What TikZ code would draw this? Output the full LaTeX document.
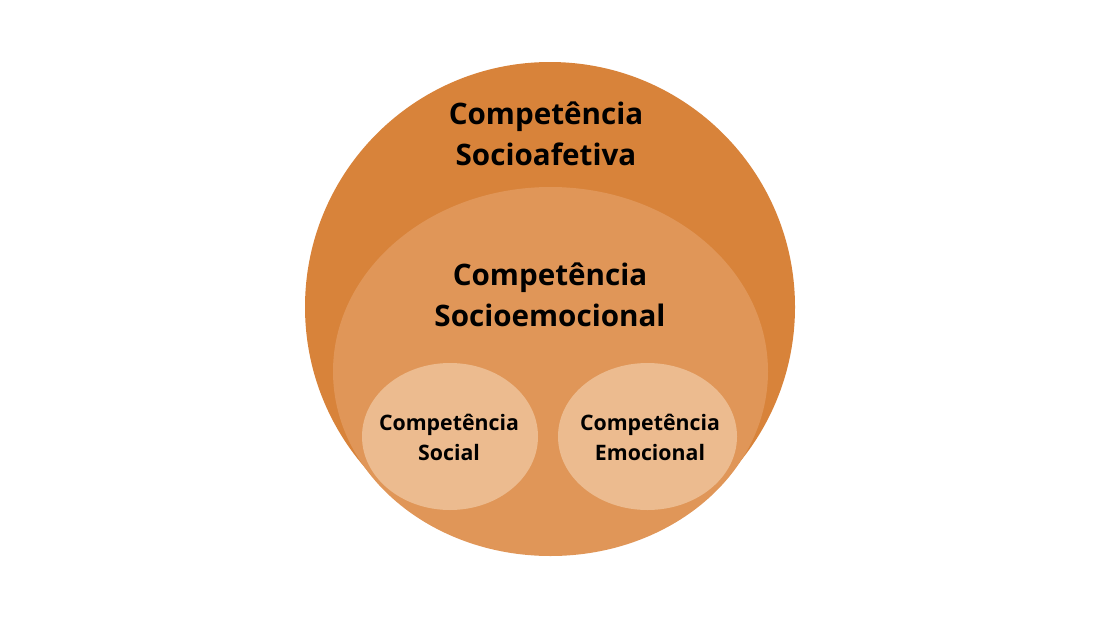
\documentclass[tikz,border=0pt]{standalone}
\usepackage{fontspec}
\setmainfont{Open Sans}[BoldFont={* Bold}]
\usetikzlibrary{shapes.geometric}
\definecolor{outerc}{HTML}{D8833A}
\definecolor{midc}{HTML}{E09658}
\definecolor{smallc}{HTML}{ECBB8F}
\tikzset{
  blob/.style={ellipse, draw=none, inner sep=0pt},
  bigtxt/.style={align=center, font=\fontsize{29.6}{41}\selectfont\bfseries, text=black},
  smalltxt/.style={align=center, font=\fontsize{21.3}{30}\selectfont\bfseries, text=black},
}
\begin{document}
\begin{tikzpicture}[x=1pt,y=-1pt]
\useasboundingbox (0,0) rectangle (1100,619);
\node[blob, fill=outerc, minimum width=490pt, minimum height=490pt] (outer) at (550,307) {};
\node[blob, fill=midc, minimum width=435pt, minimum height=369pt] (mid) at (550.5,371.5) {};
\node[blob, fill=smallc, minimum width=176pt, minimum height=147pt] (social) at (450,436.5) {};
\node[blob, fill=smallc, minimum width=179pt, minimum height=147pt] (emoc) at (647.5,436.5) {};
\node[bigtxt] (t1) at (546,134) {Competência\\Socioafetiva};
\node[bigtxt] (t2) at (550,295) {Competência\\Socioemocional};
\node[smalltxt] (t3) at (449,437) {Competência\\Social};
\node[smalltxt] (t4) at (650,437) {Competência\\Emocional};
\end{tikzpicture}
\end{document}
